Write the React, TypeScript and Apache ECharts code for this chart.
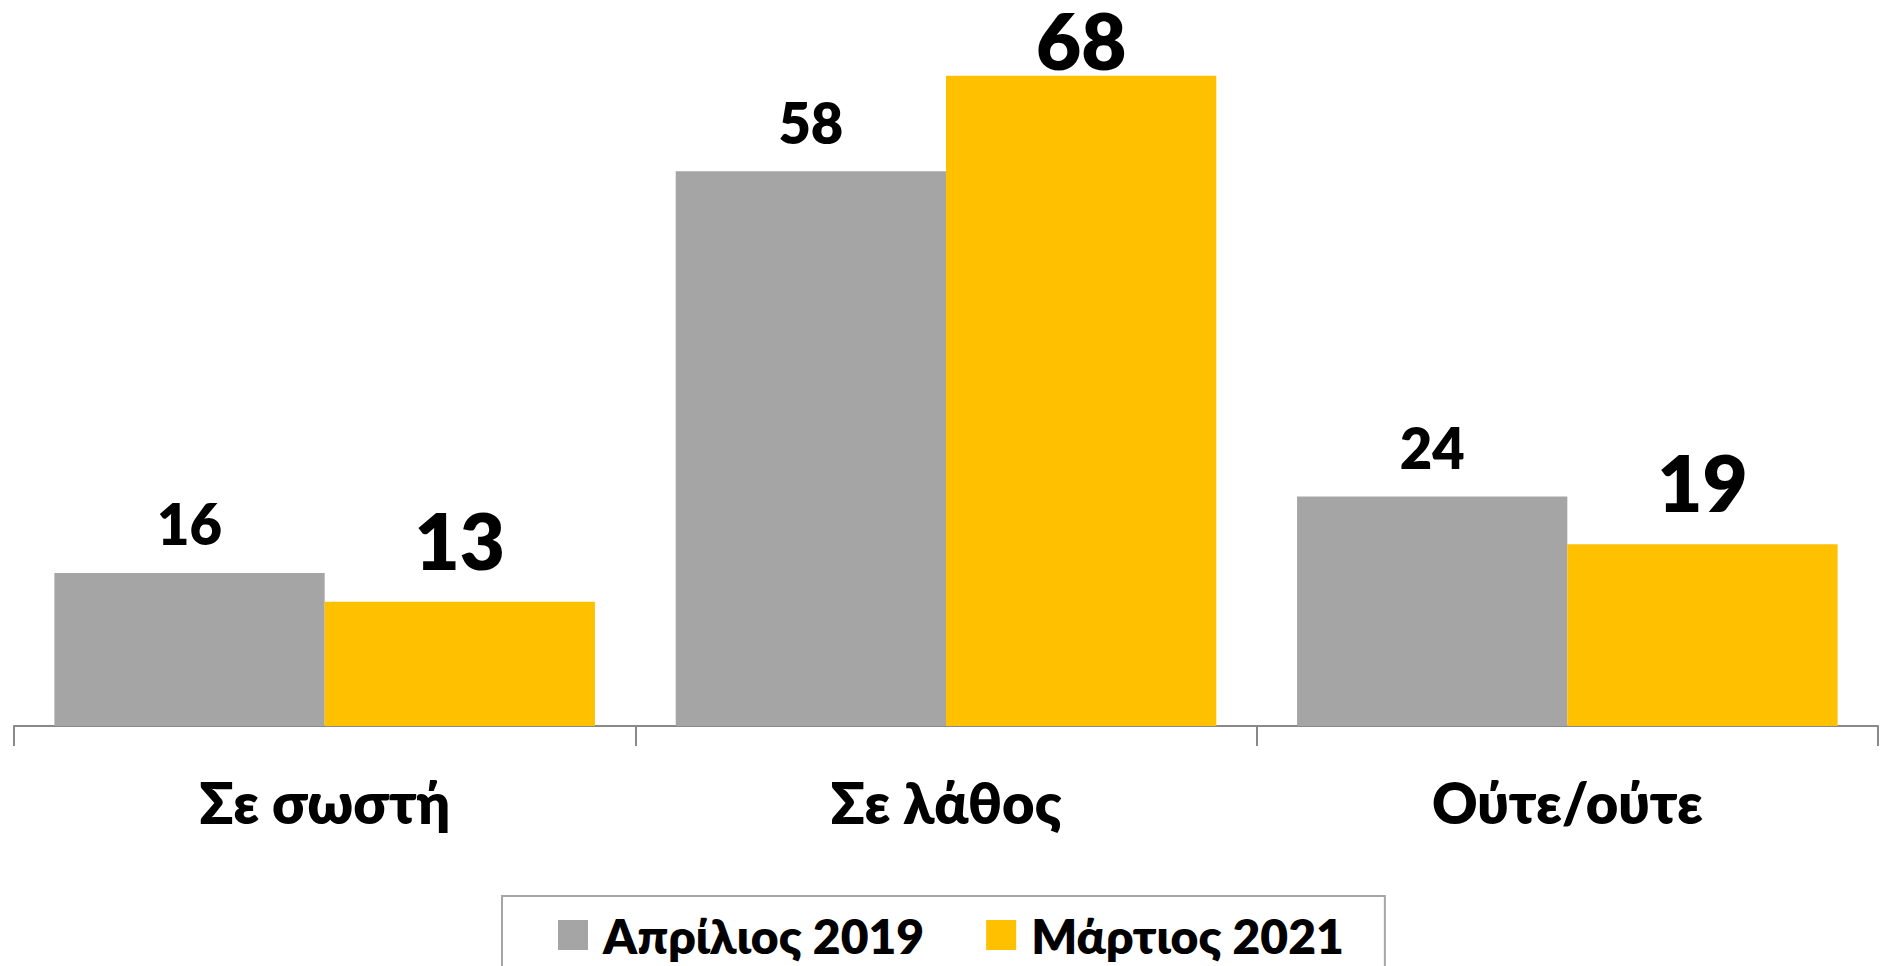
import React, { useEffect, useRef } from "react";
import * as echarts from "echarts";

const categories = ["Σε σωστή", "Σε λάθος", "Ούτε/ούτε"];
const seriesNames = ["Απρίλιος 2019", "Μάρτιος 2021"];
const values2019 = [16, 58, 24];
const values2021 = [13, 68, 19];

const FONT = "Lato, 'Open Sans', 'Noto Sans', sans-serif";
const WEIGHT = 800;

export default function App() {
  const ref = useRef<HTMLDivElement>(null);
  useEffect(() => {
    if (!ref.current) return;
    const chart = echarts.init(ref.current, undefined, { renderer: "svg" });
    const maxVal = Math.max(...values2021);
    chart.setOption({
      animation: false,
      backgroundColor: "#ffffff",
      textStyle: { fontFamily: FONT },
      grid: { left: 14, right: 3, top: 56.5, bottom: 240, containLabel: false },
      legend: {
        data: seriesNames,
        top: 896,
        left: 502,
        padding: [15, 41, 40, 56],
        borderColor: "#a6a6a6",
        borderWidth: 2,
        itemWidth: 30,
        itemHeight: 30,
        itemGap: 62,
        icon: "rect",
        textStyle: {
          fontFamily: FONT,
          fontWeight: WEIGHT,
          fontSize: 48,
          color: "#000",
          padding: [0, 0, 0, 10],
        },
      },
      xAxis: {
        type: "category",
        data: categories,
        axisLine: { show: true, lineStyle: { color: "#898989", width: 2 } },
        axisTick: { show: true, alignWithLabel: false, length: 20, lineStyle: { color: "#898989", width: 2 } },
        axisLabel: { fontFamily: FONT, fontWeight: WEIGHT, fontSize: 56, color: "#000", margin: 48 },
      },
      yAxis: {
        type: "value",
        min: 0,
        max: 70,
        show: false,
        splitLine: { show: false },
      },
      series: [
        {
          name: seriesNames[0],
          type: "bar",
          data: values2019,
          barGap: "0%",
          barCategoryGap: "13%",
          itemStyle: { color: "#a5a5a5" },
          label: {
            show: true,
            position: "top",
            distance: 21,
            fontFamily: FONT,
            fontWeight: WEIGHT,
            fontSize: 56,
            lineHeight: 56,
            color: "#000",
          },
        },
        {
          name: seriesNames[1],
          type: "bar",
          data: values2021.map((v) =>
            v === maxVal ? { value: v, label: { distance: 4 } } : v
          ),
          barGap: "0%",
          barCategoryGap: "13%",
          itemStyle: { color: "#ffc000" },
          label: {
            show: true,
            position: "top",
            distance: 30,
            fontFamily: FONT,
            fontWeight: WEIGHT,
            fontSize: 78,
            lineHeight: 64,
            color: "#000",
          },
        },
      ],
    });
    return () => chart.dispose();
  }, []);
  return (
    <div
      ref={ref}
      style={{ position: "fixed", left: 0, top: 0, width: 1881, height: 966 }}
    />
  );
}
